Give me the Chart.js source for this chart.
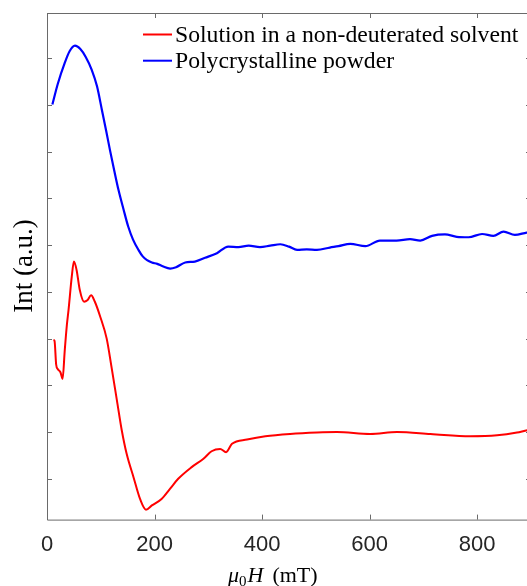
<!DOCTYPE html>
<html><head><meta charset="utf-8">
<script src="https://cdn.jsdelivr.net/npm/chart.js@4/dist/chart.umd.min.js"></script>
<style>html,body{margin:0;padding:0;overflow:hidden;background:#fff}#wrap{width:540px;height:586px}</style>
</head><body><div id="wrap"><canvas id="c" width="540" height="586"></canvas></div>
<script>
const xTicks = [0, 200, 400, 600, 800];
const yTicks = [0, 1, 2, 3, 4, 5, 6, 7, 8, 9];
const seriesLabels = ["Solution in a non-deuterated solvent", "Polycrystalline powder"];
const redX = [12, 14, 17, 20, 25, 29, 33, 37, 40, 46, 50, 55, 61, 69, 75, 82, 89, 99, 111, 120, 130, 139, 148, 161, 173, 184, 195, 213, 229, 244, 269, 291, 306, 322, 333, 344, 372, 406, 452, 502, 539, 601, 651, 713, 787, 837, 874, 893, 900];
const redY = [2.97, 2.95, 2.45, 2.35, 2.28, 2.14, 2.75, 3.3, 3.61, 4.32, 4.65, 4.47, 4.04, 3.79, 3.82, 3.93, 3.79, 3.47, 3.00, 2.39, 1.68, 1.04, 0.54, 0.03, -0.43, -0.66, -0.57, -0.43, -0.21, 0.0, 0.25, 0.43, 0.59, 0.64, 0.57, 0.75, 0.84, 0.91, 0.96, 0.99, 1.00, 0.96, 1.00, 0.96, 0.91, 0.93, 0.99, 1.04, 1.05];
const blueX = [10, 20, 33, 42, 52, 62, 72, 83, 93, 102, 110, 117, 125, 133, 142, 151, 160, 170, 178, 186, 195, 205, 215, 229, 240, 257, 275, 294, 316, 337, 356, 375, 396, 415, 434, 450, 465, 483, 502, 526, 542, 564, 592, 619, 650, 675, 694, 716, 740, 762, 784, 809, 830, 849, 870, 892, 900];
const blueY = [8.01, 8.45, 8.9, 9.15, 9.27, 9.2, 9.03, 8.76, 8.4, 7.9, 7.45, 7.04, 6.6, 6.18, 5.78, 5.40, 5.12, 4.90, 4.76, 4.68, 4.63, 4.60, 4.55, 4.50, 4.53, 4.63, 4.65, 4.73, 4.83, 4.97, 4.96, 4.99, 4.96, 4.99, 5.02, 4.97, 4.90, 4.91, 4.90, 4.95, 4.98, 5.03, 4.98, 5.10, 5.10, 5.13, 5.10, 5.20, 5.23, 5.18, 5.17, 5.24, 5.20, 5.29, 5.22, 5.27, 5.28];

const toPts = (xs, ys) => xs.map((x, i) => ({x: x, y: ys[i]}));

const decor = {
  id: 'decor',
  afterDraw(chart) {
    const ctx = chart.ctx, a = chart.chartArea, sx = chart.scales.x, sy = chart.scales.y;
    ctx.save();
    ctx.strokeStyle = '#6a6a6a';
    ctx.lineWidth = 1;
    ctx.beginPath();
    ctx.moveTo(a.left + 0.5, a.bottom + 0.5); ctx.lineTo(a.left + 0.5, a.top + 0.5);
    ctx.lineTo(a.right + 0.5, a.top + 0.5); ctx.lineTo(a.right + 0.5, a.bottom + 0.5);
    ctx.lineTo(a.left + 0.5, a.bottom + 0.5);
    xTicks.forEach(v => {
      const p = Math.round(sx.getPixelForValue(v)) + 0.5;
      ctx.moveTo(p, a.bottom); ctx.lineTo(p, a.bottom - 5);
      ctx.moveTo(p, a.top); ctx.lineTo(p, a.top + 5);
    });
    yTicks.forEach(v => {
      const p = Math.round(sy.getPixelForValue(v)) + 0.5;
      ctx.moveTo(a.left, p); ctx.lineTo(a.left + 5, p);
      ctx.moveTo(a.right, p); ctx.lineTo(a.right - 5, p);
    });
    ctx.stroke();
    // legend
    ctx.font = '23.7px "Liberation Serif"';
    ctx.textBaseline = 'middle';
    ctx.fillStyle = '#000';
    chart.data.datasets.forEach((ds, i) => {
      const y = 34.5 + i * 26.2;
      ctx.strokeStyle = ds.borderColor; ctx.lineWidth = 2;
      ctx.beginPath(); ctx.moveTo(143, y); ctx.lineTo(172, y); ctx.stroke();
      ctx.fillText(ds.label, 175, y + 1);
    });
    // y title
    ctx.save();
    ctx.translate(32, 266);
    ctx.rotate(-Math.PI / 2);
    ctx.textAlign = 'center';
    ctx.textBaseline = 'alphabetic';
    ctx.font = '27px "Liberation Serif"';
    ctx.fillText('Int (a.u.)', 0, 0);
    ctx.restore();
    // x title
    ctx.textBaseline = 'alphabetic';
    let x = 228; const base = 582;
    ctx.font = 'italic 22px "Liberation Serif"'; ctx.fillText('μ', x, base); x += ctx.measureText('μ').width;
    ctx.font = '15px "Liberation Serif"'; ctx.fillText('0', x, base + 4); x += ctx.measureText('0').width + 1;
    ctx.font = 'italic 22px "Liberation Serif"'; ctx.fillText('H', x, base); x += ctx.measureText('H').width + 9;
    ctx.font = '22px "Liberation Serif"'; ctx.fillText('(mT)', x, base);
    ctx.restore();
  }
};

new Chart(document.getElementById('c'), {
  type: 'line',
  data: {
    datasets: [
      {label: seriesLabels[0], data: toPts(redX, redY), borderColor: '#ff0000', borderWidth: 2, pointRadius: 0, fill: false, cubicInterpolationMode: 'monotone'},
      {label: seriesLabels[1], data: toPts(blueX, blueY), borderColor: '#0000ff', borderWidth: 2.2, pointRadius: 0, fill: false, cubicInterpolationMode: 'monotone'}
    ]
  },
  options: {
    responsive: false,
    animation: false,
    devicePixelRatio: 1,
    layout: {padding: {left: 47, right: 9, top: 13, bottom: 16}},
    plugins: {legend: {display: false}, tooltip: {enabled: false}},
    scales: {
      x: {
        type: 'linear', min: 0, max: 900,
        afterBuildTicks: s => { s.ticks = xTicks.map(v => ({value: v})); },
        grid: {display: false, drawTicks: false},
        border: {display: false},
        ticks: {font: {family: '"Liberation Sans", Arial', size: 22}, color: '#262626', padding: 12, maxRotation: 0, autoSkip: false}
      },
      y: {
        type: 'linear', min: -0.873, max: 9.97, display: false,
        afterBuildTicks: s => { s.ticks = yTicks.map(v => ({value: v})); }
      }
    }
  },
  plugins: [decor]
});
</script>
</body></html>
